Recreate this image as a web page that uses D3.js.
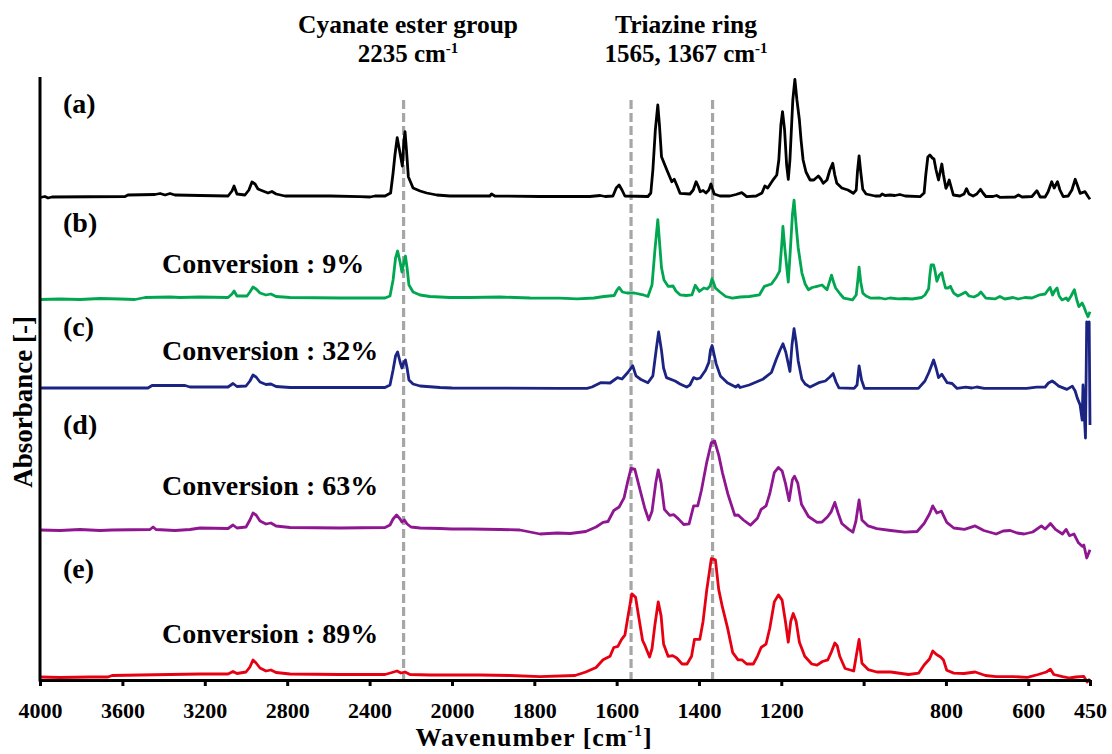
<!DOCTYPE html>
<html><head><meta charset="utf-8">
<script src="https://cdn.jsdelivr.net/npm/d3@7"></script>
<style>
body{margin:0;background:#fff}
svg{display:block}
text{font-family:"Liberation Serif","Times New Roman",serif;font-weight:bold;fill:#000}
</style>
</head><body>
<svg id="chart" width="1112" height="754"></svg>
<script>
// ---------- data ----------
const panelLabels = ["(a)", "(b)", "(c)", "(d)", "(e)"];
const conversionLabels = [null, "Conversion : 9%", "Conversion : 32%", "Conversion : 63%", "Conversion : 89%"];
const seriesColors = ["#000000", "#00a650", "#1c2483", "#8e1690", "#e60012"];
const offsets = [4.83, 3.81, 2.92, 1.48, 0.03];
const markerWavenumbers = [2235, 1565, 1367];
const xTickValues = [4000, 3600, 3200, 2800, 2400, 2000, 1800, 1600, 1400, 1200, 1000, 800, 600, 450];
const xTickLabels = ["4000", "3600", "3200", "2800", "2400", "2000", "1800", "1600", "1400", "1200", "", "800", "600", "450"];

// (a) monomer
const spectrumA = [[4000,-0.005],[3976,0.005],[3961,-0.01],[3942,0],[3587,0.005],[3573,0.02],[3442,0.025],[3417,0.035],[3393,0.02],[3369,0.035],[3345,0.02],[3223,0.015],[3087,0.01],[3068,0.06],[3058,0.11],[3044,0.03],[3005,0.02],[2986,0.07],[2971,0.15],[2956,0.13],[2942,0.08],[2918,0.06],[2893,0.04],[2874,0.055],[2854,0.03],[2811,0.01],[2592,0.01],[2447,0.003],[2398,0],[2374,0.01],[2325,0.01],[2298,0.04],[2286,0.24],[2277,0.42],[2266,0.593],[2255,0.47],[2241,0.31],[2233,0.57],[2228,0.653],[2221,0.47],[2212,0.203],[2189,0.09],[2155,0.06],[2123,0.04],[2074,0.02],[2010,0.01],
[1956,0.01],[1908,0.01],[1904,0.03],[1896,0.01],[1786,0.005],[1665,0.005],[1640,0.015],[1628,0.005],[1609,0.01],[1601,0.09],[1594,0.12],[1587,0.07],[1580,0.01],[1524,0.005],[1517,0.04],[1512,0.27],[1506,0.67],[1500,0.92],[1496,0.72],[1491,0.403],[1478,0.27],[1466,0.153],[1460,0.177],[1453,0.11],[1446,0.037],[1422,0.03],[1414,0.07],[1407,0.153],[1402,0.11],[1397,0.053],[1390,0.065],[1383,0.04],[1376,0.07],[1371,0.13],[1363,0.03],[1349,0.01],[1325,0.01],[1310,0.025],[1296,0.043],[1284,0.003],[1261,0.01],[1247,0.04],[1240,0.11],[1233,0.09],[1219,0.177],[1211,0.22],[1206,0.37],[1201,0.72],[1197,0.853],[1192,0.67],[1187,0.32],[1183,0.177],[1179,0.37],[1172,0.97],[1167,1.177],[1162,0.97],[1156,0.77],[1152,0.57],[1147,0.37],[1140,0.25],[1130,0.17],[1121,0.17],[1110,0.21],[1104,0.18],[1098,0.137],[1089,0.17],[1082,0.27],[1075,0.337],[1070,0.22],[1065,0.137],[1053,0.09],[1038,0.07],[1025,0.037],[1018,0.07],[1015,0.25],[1011,0.41],[1007,0.25],[1002,0.077],[994,0.03],[972,0.01],[960,0.01],[955,0.03],[948,0.015],[936,0.02],[924,0.015],[912,0.025],[899,0.01],[863,0.003],[853,0.04],[849,0.22],[844,0.40],[839,0.42],[833,0.39],[829,0.38],[824,0.27],[818,0.17],[814,0.25],[810,0.33],[806,0.22],[800,0.087],[796,0.12],[792,0.17],[788,0.11],[782,0.02],[766,0.01],[756,0.03],[750,0.083],[744,0.03],[734,0.01],[725,0.03],[716,0.077],[710,0.04],[703,0.005],[686,0.005],[677,0.015],[669,-0.003],[632,0],[624,0.02],[615,0],[591,0.005],[579,0.063],[571,0],[559,0],[552,0.05],[543,0.153],[537,0.09],[529,0.153],[523,0.07],[515,0.003],[503,0.01],[494,0.07],[486,0.177],[480,0.11],[474,0.037],[462,0.053],[454,0],[450,-0.023]];

// (b) conversion 9%
const spectrumB = [[4000,-0.005],[3903,0],[3806,-0.005],[3709,0.005],[3612,0],[3539,-0.005],[3490,0.015],[3369,0.02],[3320,0.015],[3223,0.02],[3087,0.015],[3068,0.05],[3058,0.08],[3044,0.03],[2995,0.03],[2981,0.07],[2966,0.12],[2951,0.10],[2932,0.06],[2903,0.04],[2879,0.05],[2854,0.025],[2786,0.015],[2544,0.01],[2325,0.01],[2301,0.03],[2286,0.19],[2274,0.41],[2264,0.48],[2252,0.37],[2243,0.27],[2233,0.37],[2226,0.43],[2218,0.31],[2209,0.14],[2189,0.07],[2155,0.04],[2107,0.025],[2010,0.015],
[1956,0.015],[1883,0.02],[1810,0.01],[1738,0.008],[1696,0.002],[1655,0.01],[1631,0.025],[1606,0.035],[1599,0.09],[1594,0.116],[1586,0.07],[1575,0.06],[1557,0.06],[1536,0.042],[1524,0.025],[1514,0.143],[1507,0.49],[1500,0.793],[1491,0.312],[1485,0.19],[1475,0.127],[1463,0.13],[1456,0.08],[1446,0.042],[1431,0.035],[1417,0.042],[1409,0.137],[1399,0.076],[1388,0.11],[1380,0.10],[1373,0.13],[1368,0.204],[1360,0.11],[1349,0.07],[1335,0.025],[1319,0.008],[1300,0.02],[1278,0.025],[1253,0.042],[1241,0.127],[1224,0.15],[1212,0.218],[1204,0.279],[1199,0.54],[1196,0.725],[1191,0.49],[1183,0.17],[1178,0.49],[1173,0.84],[1169,0.989],[1164,0.74],[1159,0.515],[1150,0.262],[1142,0.15],[1134,0.093],[1125,0.115],[1113,0.127],[1101,0.14],[1089,0.093],[1083,0.17],[1078,0.238],[1073,0.17],[1068,0.11],[1057,0.05],[1048,0.008],[1027,-0.009],[1018,0.04],[1014,0.19],[1011,0.319],[1007,0.17],[1002,0.059],[994,0.03],[982,0.008],[960,0.01],[948,0],[936,0.01],[916,0.001],[899,0.005],[882,0],[859,0.015],[851,0.04],[842,0.103],[839,0.24],[836,0.34],[830,0.34],[827,0.29],[822,0.177],[816,0.24],[810,0.262],[806,0.19],[801,0.11],[795,0.11],[789,0.127],[785,0.09],[781,0.059],[771,0.03],[761,0.05],[752,0.069],[744,0.03],[732,0.02],[722,0.04],[715,0.069],[703,0.008],[681,0.001],[669,0.025],[657,0],[637,0.015],[625,0],[608,0.015],[591,0.01],[572,0.042],[559,0.05],[552,0.09],[547,0.116],[541,0.04],[536,0.08],[530,0.11],[525,0.03],[518,-0.009],[508,0.01],[503,-0.015],[496,0.03],[488,0.093],[482,-0.01],[477,-0.076],[469,-0.04],[465,-0.076],[460,-0.13],[455,-0.178],[450,-0.127]];

// (c) conversion 32%
const spectrumC = [[4000,0],[3757,0],[3476,0],[3456,0.025],[3296,0.025],[3272,0.01],[3087,0.01],[3063,0.045],[3044,0.015],[3000,0.02],[2981,0.07],[2966,0.13],[2951,0.11],[2932,0.06],[2903,0.035],[2879,0.04],[2854,0.015],[2786,0.005],[2325,0.005],[2301,0.03],[2286,0.18],[2274,0.32],[2264,0.36],[2252,0.26],[2243,0.20],[2233,0.26],[2226,0.28],[2218,0.20],[2209,0.08],[2189,0.04],[2155,0.02],[2058,0.005],[2000,0],
[1738,-0.004],[1672,-0.004],[1660,0.01],[1639,0.053],[1616,0.05],[1606,0.08],[1598,0.104],[1587,0.09],[1573,0.155],[1561,0.222],[1553,0.121],[1541,0.085],[1524,0.053],[1512,0.121],[1504,0.38],[1498,0.56],[1491,0.374],[1486,0.20],[1479,0.104],[1458,0.07],[1446,0.04],[1430,0.009],[1422,0.03],[1413,0.104],[1405,0.09],[1397,0.10],[1384,0.178],[1376,0.256],[1372,0.38],[1368,0.425],[1363,0.33],[1358,0.239],[1348,0.121],[1331,0.053],[1311,0.009],[1305,0.03],[1300,0.005],[1278,0.03],[1245,0.087],[1224,0.155],[1212,0.29],[1203,0.38],[1196,0.442],[1189,0.357],[1179,0.165],[1174,0.43],[1169,0.594],[1164,0.46],[1159,0.273],[1150,0.087],[1142,0.04],[1130,0.009],[1109,0.053],[1093,0.07],[1082,0.11],[1074,0.144],[1067,0.06],[1060,0.002],[1023,-0.004],[1016,0.03],[1011,0.222],[1005,0.08],[998,-0.004],[867,-0.004],[851,0.07],[841,0.16],[830,0.28],[824,0.20],[818,0.104],[810,0.138],[797,0.053],[785,0.045],[773,-0.004],[752,0.009],[737,0],[725,0.01],[707,-0.004],[604,-0.004],[580,0.009],[559,0.01],[551,0.05],[542,0.07],[535,0.05],[526,0.019],[506,-0.014],[493,0.019],[486,-0.03],[481,-0.099],[474,-0.17],[469,-0.32],[467,0.03],[465,-0.17],[461,-0.50],[458,0.66],[455,0.58],[452,0.66],[450,-0.37]];

// (d) conversion 63%
const spectrumD = [[4000,0.02],[3903,0.015],[3806,0.025],[3709,0.015],[3650,0.02],[3466,0.025],[3451,0.05],[3437,0.025],[3345,0.015],[3272,0.025],[3223,0.04],[3087,0.035],[3063,0.07],[3044,0.04],[3000,0.05],[2981,0.12],[2966,0.19],[2951,0.17],[2932,0.11],[2903,0.08],[2879,0.09],[2854,0.06],[2786,0.045],[2544,0.04],[2325,0.045],[2301,0.07],[2286,0.13],[2269,0.17],[2252,0.13],[2243,0.10],[2231,0.12],[2218,0.08],[2199,0.05],[2155,0.04],[2058,0.035],[2000,0.03],
[1956,0.03],[1883,0.025],[1835,0.02],[1786,-0.02],[1744,-0.01],[1713,-0.015],[1675,0.005],[1650,0.05],[1633,0.096],[1621,0.105],[1607,0.215],[1594,0.25],[1582,0.341],[1573,0.506],[1565,0.636],[1556,0.629],[1543,0.418],[1532,0.243],[1522,0.12],[1514,0.208],[1505,0.489],[1499,0.622],[1492,0.489],[1484,0.226],[1471,0.166],[1461,0.173],[1450,0.131],[1437,0.075],[1424,0.082],[1413,0.261],[1403,0.261],[1394,0.418],[1381,0.699],[1370,0.892],[1362,0.91],[1352,0.769],[1343,0.594],[1330,0.383],[1313,0.166],[1305,0.17],[1292,0.12],[1275,0.068],[1258,0.138],[1249,0.226],[1237,0.261],[1228,0.383],[1217,0.594],[1207,0.646],[1198,0.611],[1190,0.489],[1181,0.313],[1173,0.524],[1168,0.559],[1160,0.489],[1151,0.278],[1134,0.155],[1113,0.096],[1101,0.10],[1087,0.155],[1079,0.201],[1070,0.296],[1062,0.19],[1053,0.085],[1036,0.026],[1026,-0.002],[1019,0.103],[1011,0.32],[1004,0.12],[989,0.061],[968,0.033],[934,0.015],[900,-0.002],[870,0.005],[853,0.085],[840,0.18],[832,0.261],[822,0.19],[811,0.208],[798,0.096],[781,0.04],[755,0.026],[729,0.061],[708,0.015],[678,-0.02],[661,0.01],[644,0.015],[627,-0.01],[610,-0.02],[589,0],[568,0.061],[559,0.03],[546,0.085],[534,0.026],[517,-0.02],[508,0.026],[500,-0.037],[489,-0.02],[478,-0.108],[469,-0.143],[465,-0.13],[458,-0.26],[455,-0.23],[450,-0.177]];

// (e) conversion 89%
const spectrumE = [[4000,0],[3903,-0.005],[3757,0],[3670,0],[3650,0.015],[3515,0.02],[3369,0.025],[3223,0.03],[3087,0.03],[3063,0.055],[3044,0.035],[3000,0.05],[2981,0.10],[2966,0.17],[2951,0.14],[2932,0.09],[2903,0.06],[2879,0.07],[2854,0.045],[2786,0.03],[2544,0.025],[2325,0.025],[2291,0.045],[2267,0.06],[2248,0.04],[2228,0.05],[2204,0.025],[2107,0.02],[2000,0.02],
[1932,0.02],[1859,0.015],[1786,0.004],[1701,0.015],[1675,0.05],[1650,0.095],[1633,0.172],[1616,0.207],[1607,0.295],[1597,0.306],[1588,0.376],[1580,0.418],[1573,0.593],[1563,0.832],[1554,0.797],[1546,0.593],[1537,0.365],[1531,0.313],[1520,0.20],[1514,0.285],[1507,0.523],[1499,0.751],[1492,0.611],[1486,0.33],[1475,0.207],[1464,0.214],[1454,0.19],[1441,0.13],[1429,0.13],[1418,0.207],[1411,0.376],[1398,0.376],[1390,0.558],[1381,0.874],[1370,1.183],[1360,1.172],[1352,0.874],[1343,0.698],[1330,0.481],[1318,0.243],[1305,0.172],[1296,0.172],[1284,0.13],[1268,0.13],[1258,0.207],[1249,0.295],[1237,0.33],[1228,0.488],[1217,0.751],[1207,0.821],[1198,0.769],[1190,0.558],[1183,0.348],[1177,0.558],[1171,0.635],[1164,0.558],[1156,0.348],[1143,0.207],[1126,0.13],[1113,0.119],[1100,0.155],[1087,0.172],[1079,0.243],[1070,0.34],[1064,0.31],[1058,0.207],[1045,0.085],[1024,0.06],[1018,0.207],[1011,0.376],[1004,0.137],[989,0.074],[968,0.05],[934,0.05],[891,0.025],[866,0.039],[853,0.12],[840,0.18],[832,0.26],[823,0.225],[813,0.20],[806,0.17],[798,0.067],[781,0.039],[756,0.035],[729,0.05],[704,0.015],[678,0.004],[636,0.004],[602,-0.003],[576,0.025],[556,0.05],[546,0.078],[538,0.025],[517,0.004],[500,-0.01],[484,0],[465,0.006],[457,-0.05],[450,-0.02]];

const spectra = [spectrumA, spectrumB, spectrumC, spectrumD, spectrumE];

// ---------- layout ----------
const svg = d3.select("#chart");
const plot = {left: 40, right: 1090, top: 77, bottom: 680};

// broken-scale FTIR axis (4000-2000 compressed)
const x = d3.scaleLinear().domain([4000, 2000, 450]).range([plot.left, 452, plot.right]);
const y = d3.scaleLinear().domain([0, 6.03]).range([plot.bottom, plot.top]);

// marker dashed lines
svg.append("g").selectAll("line").data(markerWavenumbers).join("line")
  .attr("x1", d => x(d)).attr("x2", d => x(d))
  .attr("y1", 100).attr("y2", plot.bottom)
  .attr("stroke", "#a6a6a6").attr("stroke-width", 3.2).attr("stroke-dasharray", "9,4");

// spectra
spectra.forEach((s, i) => {
  const line = d3.line().x(d => x(d[0])).y(d => y(d[1] + offsets[i]));
  svg.append("path").datum(s).attr("d", line)
    .attr("fill", "none").attr("stroke", seriesColors[i])
    .attr("stroke-width", 2.8).attr("stroke-linejoin", "round");
});

// axes
const xAxis = d3.axisBottom(x).tickValues(xTickValues)
  .tickFormat((d, i) => xTickLabels[i]).tickSizeInner(6).tickSizeOuter(0).tickPadding(16);
const gx = svg.append("g").attr("transform", `translate(0,${plot.bottom})`).call(xAxis);
gx.select(".domain").attr("stroke", "#000").attr("stroke-width", 3);
gx.selectAll(".tick line").attr("stroke", "#000").attr("stroke-width", 3);
gx.selectAll(".tick text").attr("font-size", 22).attr("font-family", "Liberation Serif").attr("font-weight", "bold").attr("fill", "#000");

svg.append("line").attr("x1", plot.left).attr("x2", plot.left)
  .attr("y1", plot.top).attr("y2", plot.bottom + 1.5)
  .attr("stroke", "#000").attr("stroke-width", 3);

// panel labels
const labelY = [113, 232, 336, 434, 578];
svg.append("g").selectAll("text").data(panelLabels).join("text")
  .attr("x", 63).attr("y", (d, i) => labelY[i]).attr("font-size", 28).text(d => d);

const convY = [null, 273, 360, 495, 643];
svg.append("g").selectAll("text").data(conversionLabels.filter(d => d)).join("text")
  .attr("x", 162).attr("y", (d, i) => convY[i + 1]).attr("font-size", 28).text(d => d);

// annotations
function supText(xc, yb, main, sup) {
  const t = svg.append("text").attr("x", xc).attr("y", yb).attr("text-anchor", "middle").attr("font-size", 25);
  t.append("tspan").text(main);
  t.append("tspan").attr("font-size", 15).attr("dy", -9).text(sup);
  return t;
}
svg.append("text").attr("x", 408).attr("y", 33).attr("text-anchor", "middle").attr("font-size", 25.5).text("Cyanate ester group");
supText(408, 62, "2235 cm", "-1");
svg.append("text").attr("x", 686).attr("y", 33).attr("text-anchor", "middle").attr("font-size", 25.5).text("Triazine ring");
supText(686, 62, "1565, 1367 cm", "-1");

// axis titles
const xt = svg.append("text").attr("x", 534).attr("y", 746).attr("text-anchor", "middle").attr("font-size", 26).attr("letter-spacing", 1);
xt.append("tspan").text("Wavenumber [cm");
xt.append("tspan").attr("font-size", 16).attr("dy", -10).text("-1");
xt.append("tspan").attr("dy", 10).text("]");

svg.append("text").attr("transform", "translate(32,402) rotate(-90)")
  .attr("text-anchor", "middle").attr("font-size", 27).text("Absorbance [-]");
</script>
</body></html>
